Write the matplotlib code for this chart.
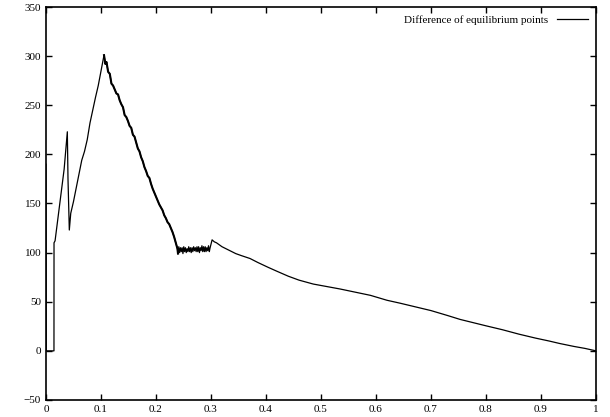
import matplotlib
matplotlib.use("Agg")
import matplotlib.pyplot as plt

plt.rcParams['font.family'] = ['Liberation Serif', 'DejaVu Serif']

# start: drop to zero, step up, first spike and the rise to the main peak
start_x = [0.0, 0.0005, 0.0145, 0.0146, 0.0165, 0.025, 0.033, 0.0388, 0.0400, 0.0424,
           0.045, 0.050, 0.055, 0.060, 0.065, 0.070, 0.075, 0.080, 0.085, 0.090, 0.095, 0.100, 0.1055]
start_y = [190, 0, 0, 110, 112, 150, 185, 223, 175, 123,
           140, 152, 166, 180, 194, 203, 215, 232, 245, 258, 270, 285, 301]

# decline after the peak
down_x = [0.108, 0.110, 0.113, 0.116, 0.119, 0.122, 0.125, 0.128, 0.131, 0.134,
          0.137, 0.140, 0.143, 0.146, 0.149, 0.152, 0.155, 0.158, 0.161, 0.164,
          0.167, 0.170, 0.173, 0.176, 0.179, 0.182, 0.185, 0.188, 0.191, 0.194,
          0.197, 0.200, 0.203, 0.206, 0.209, 0.212, 0.215, 0.218, 0.221, 0.224,
          0.227, 0.230, 0.233, 0.236, 0.239, 0.240]
down_y = [292, 294, 284, 282, 272, 270, 266, 262, 261, 255,
          251, 248, 240, 238, 234, 229, 227, 220, 218, 212,
          206, 203, 197, 193, 187, 183, 178, 176, 170, 165,
          161, 157, 153, 149, 146, 143, 138, 135, 131, 129,
          125, 121, 116, 110, 104, 99]

# noisy plateau
flat_x = [0.2415, 0.243, 0.2445, 0.246, 0.2475, 0.249, 0.2505, 0.252, 0.2535, 0.255,
          0.2565, 0.258, 0.2595, 0.261, 0.2625, 0.264, 0.2655, 0.267, 0.2685, 0.270,
          0.2715, 0.273, 0.2745, 0.276, 0.2775, 0.279, 0.2805, 0.282, 0.2835, 0.285,
          0.2865, 0.288, 0.2895, 0.291, 0.2925, 0.294, 0.2955, 0.297, 0.298]
flat_y = [106, 100, 105, 101, 105, 99, 106, 101, 105, 100,
          104, 101, 106, 101, 105, 100, 105, 101, 106, 102,
          105, 101, 106, 101, 106, 100, 105, 102, 107, 101,
          106, 101, 106, 101, 105, 102, 107, 101, 104]

# slow decay to zero
tail_x = [0.302, 0.306, 0.310, 0.315, 0.320, 0.3345, 0.345, 0.355, 0.371, 0.385,
          0.404, 0.420, 0.4405, 0.460, 0.486, 0.510, 0.5345, 0.560, 0.590, 0.620,
          0.644, 0.670, 0.700, 0.730, 0.753, 0.771, 0.800, 0.830, 0.860, 0.890,
          0.915, 0.934, 0.960, 0.980, 1.0]
tail_y = [113, 111, 110, 108, 106, 102, 99, 97, 94, 90,
          85, 81, 76, 72, 68, 65.5, 63, 60, 56.5, 51.5,
          48.5, 45, 41, 36, 32, 29.5, 25.5, 21.5, 17, 13,
          10, 7.5, 4.5, 2.5, 0]

xs = start_x + down_x + flat_x + tail_x
ys = start_y + down_y + flat_y + tail_y

x_ticks = [0, 0.1, 0.2, 0.3, 0.4, 0.5, 0.6, 0.7, 0.8, 0.9, 1]
x_labels = ['0', '0.1', '0.2', '0.3', '0.4', '0.5', '0.6', '0.7', '0.8', '0.9', '1']
y_ticks = [-50, 0, 50, 100, 150, 200, 250, 300, 350]

fig = plt.figure(figsize=(6.1, 4.17), dpi=100)
ax = fig.add_axes([0.0754, 0.0408, 0.9016, 0.9424])

ax.plot(xs, ys, color='black', lw=0.9, label='Difference of equilibrium points')
# the noisy decline looks heavier in the original
ax.plot([start_x[-1]] + down_x, [start_y[-1]] + down_y, color='black', lw=1.5)

ax.set_xlim(0, 1)
ax.set_ylim(-50, 350)
ax.set_xticks(x_ticks)
ax.set_xticklabels(x_labels)
ax.set_yticks(y_ticks)
ax.tick_params(direction='in', top=True, right=True, length=4, width=1, labelsize=8)
for s in ax.spines.values():
    s.set_linewidth(1.2)

ax.legend(loc='upper right', frameon=False, markerfirst=False, fontsize=8,
          handlelength=2.8, borderaxespad=0.3)

fig.savefig('out.png', dpi=100)
